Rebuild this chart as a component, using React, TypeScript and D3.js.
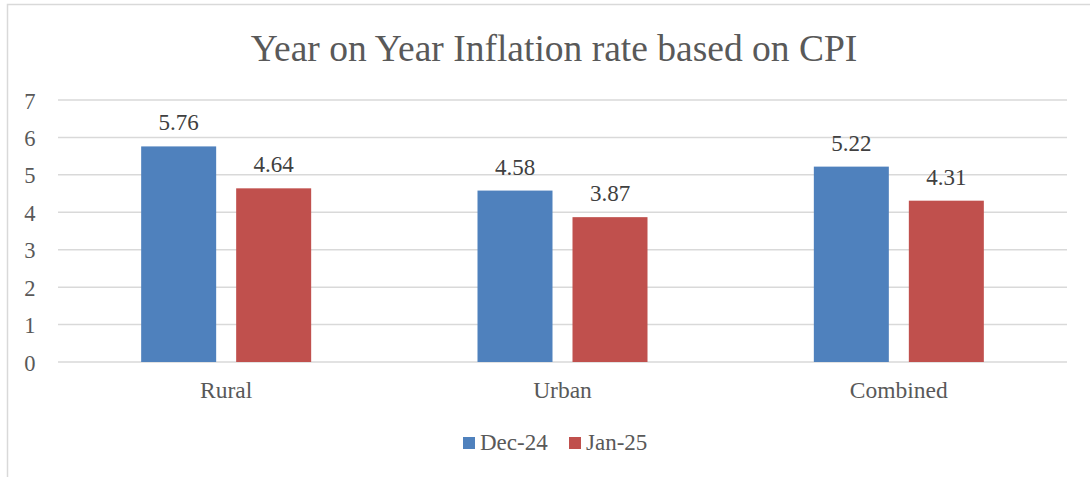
import React from 'react';
import * as d3 from 'd3';

const categories = ['Rural', 'Urban', 'Combined'];
const seriesNames = ['Dec-24', 'Jan-25'];
const dec24 = [5.76, 4.58, 5.22];
const jan25 = [4.64, 3.87, 4.31];
const yTicks = [0, 1, 2, 3, 4, 5, 6, 7];
const colors = ['#4F81BD', '#C0504D'];

const W = 1090;
const H = 477;
const font = 'Liberation Serif, Times New Roman, serif';
const textColor = '#595959';

export default function App() {
  const left = 58;
  const right = 1067;
  const top = 100;
  const bottom = 362;

  const x = d3.scaleBand<string>().domain(categories).range([left, right]);
  const y = d3.scaleLinear().domain([0, 7]).range([bottom, top]);
  const barW = 75;
  const gap = 20;

  const series = [dec24, jan25];

  return (
    <svg width={W} height={H} style={{ position: 'absolute', left: 0, top: 0, background: '#fff', fontFamily: font }}>
      <rect x={7.5} y={4.5} width={W} height={H} fill="#fff" stroke="#d9d9d9" strokeWidth={1.5} />
      <text x={554} y={61} textAnchor="middle" fontSize={37.5} fill={textColor}>
        Year on Year Inflation rate based on CPI
      </text>

      {yTicks.map((t) => (
        <g key={t}>
          <line x1={left} x2={right} y1={y(t)} y2={y(t)} stroke="#d9d9d9" strokeWidth={1.5} />
          <text x={35.5} y={y(t) + 8.5} textAnchor="end" fontSize={22.5} fill={textColor}>
            {t}
          </text>
        </g>
      ))}

      {categories.map((c, i) => {
        const cx = (x(c) ?? 0) + x.bandwidth() / 2;
        const x0 = cx - barW - gap / 2;
        return (
          <g key={c}>
            {series.map((s, j) => {
              const bx = x0 + j * (barW + gap);
              return (
                <g key={j}>
                  <rect x={bx} y={y(s[i])} width={barW} height={y(0) - y(s[i])} fill={colors[j]} />
                  <text x={bx + barW / 2} y={y(s[i]) - 16} textAnchor="middle" fontSize={23} fill="#404040">
                    {s[i].toFixed(2)}
                  </text>
                </g>
              );
            })}
            <text x={cx} y={397.5} textAnchor="middle" fontSize={23.5} fill={textColor}>
              {c}
            </text>
          </g>
        );
      })}

      {seriesNames.map((n, j) => {
        const lx = j === 0 ? 463 : 569;
        return (
          <g key={n}>
            <rect x={lx} y={437} width={12} height={12} fill={colors[j]} />
            <text x={lx + 17} y={449.5} fontSize={23} fill={textColor}>
              {n}
            </text>
          </g>
        );
      })}
    </svg>
  );
}
